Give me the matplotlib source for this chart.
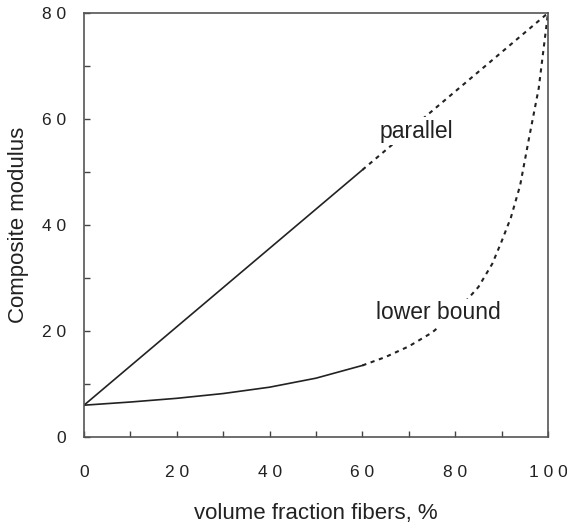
import matplotlib.pyplot as plt

plt.rcParams['font.family'] = ['Liberation Sans', 'DejaVu Sans']

# values
vf_solid = [0, 10, 20, 30, 40, 50, 60]
parallel_solid = [6.0, 13.4, 20.8, 28.2, 35.6, 43.0, 50.4]
vf_dot_par = [60, 70, 80, 90, 100]
parallel_dot = [50.4, 57.8, 65.2, 72.6, 80.0]

lower_solid = [6.0, 6.6, 7.3, 8.2, 9.4, 11.1, 13.5]
vf_dot_low = [60, 65, 70, 75, 80, 85, 88, 90, 92, 94, 96, 98, 100]
lower_dot = [13.5, 15.1, 17.1, 19.7, 23.4, 28.3, 32.7, 36.9, 41.4, 47.5, 56.8, 65.8, 80.0]

xticks = [0, 20, 40, 60, 80, 100]
yticks = [0, 20, 40, 60, 80]

fig = plt.figure(figsize=(5.67, 5.26), dpi=100)
ax = fig.add_axes([84/567, 1-437/526, 464/567, 424/526])

ax.plot(vf_solid, parallel_solid, color='#222222', lw=1.2)
ax.plot(vf_dot_par, parallel_dot, color='#222222', lw=1.5, ls=(0, (2, 2.2)))
ax.plot(vf_solid, lower_solid, color='#222222', lw=1.2)
ax.plot(vf_dot_low, lower_dot, color='#222222', lw=1.5, ls=(0, (2, 2.2)))

box = dict(fc='white', ec='none', pad=2)
ax.text(63.8, 57.7, 'parallel', fontsize=16.5, va='center', ha='left',
        color='#222222', bbox=box)
ax.text(62.9, 23.4, 'lower bound', fontsize=16.5, va='center', ha='left',
        color='#222222', bbox=box)

ax.set_xlim(0, 100)
ax.set_ylim(0, 80)
ax.set_xticks(xticks)
ax.set_xticklabels([' '.join(str(t)) for t in xticks])
ax.set_yticks(yticks)
ax.set_yticklabels([' '.join(str(t)) for t in yticks])
ax.set_xticks(range(10, 100, 20), minor=True)
ax.set_yticks(range(10, 80, 20), minor=True)
ax.tick_params(which='both', direction='in', length=4, width=1, color='#444444',
               labelsize=12.5, labelcolor='#222222')
ax.tick_params(axis='x', pad=20)
ax.tick_params(axis='y', pad=13)
for s in ax.spines.values():
    s.set_color('#555555')
    s.set_linewidth(1.2)

ax.set_xlabel('volume fraction fibers, %', fontsize=16, labelpad=17, color='#222222')
ax.set_ylabel('Composite modulus', fontsize=16, labelpad=9, color='#222222')

fig.savefig('out.png', dpi=100)
